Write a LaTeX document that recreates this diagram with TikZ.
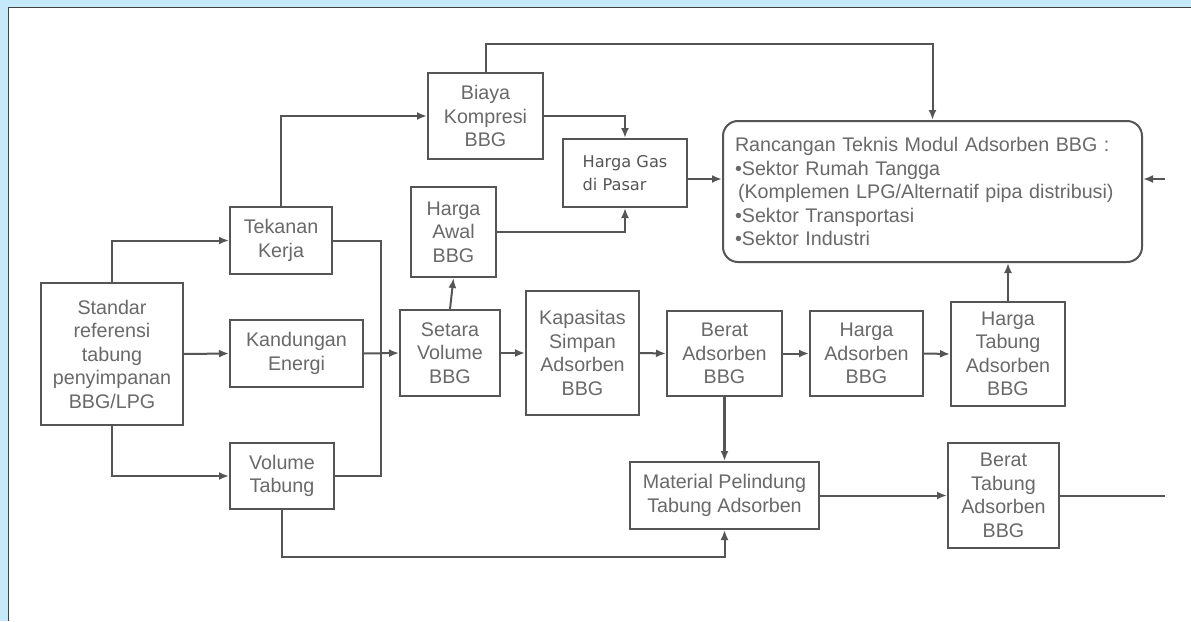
\documentclass[tikz,border=0pt]{standalone}
\usepackage{fontspec}
\setmainfont{Liberation Sans}
\newfontfamily\gasfont{DejaVu Sans}
\usetikzlibrary{arrows.meta}

\definecolor{framebg}{RGB}{197,233,249}
\definecolor{linegray}{RGB}{85,85,85}
\definecolor{textgray}{RGB}{105,105,105}

\tikzset{
  box/.style={draw=linegray, line width=2pt, text=textgray, align=center,
    inner sep=2pt, font=\fontsize{19.7}{23.5}\selectfont},
  link/.style={draw=linegray, line width=2pt},
  arr/.style={link, -{Latex[length=10pt,width=8pt]}},
}

\begin{document}
\begin{tikzpicture}[x=1pt,y=-1pt]
  \useasboundingbox (0,0) rectangle (1191,621);
  \fill[framebg] (0,0) rectangle (1191,621);
  \fill[white] (8,7) rectangle (1191,621);
  \draw[black!75, line width=1pt] (8,621) -- (8,7) -- (1191,7);

  % left column
  \node[box, minimum width=142pt, minimum height=142pt] (std) at (112,354)
    {Standar\\referensi\\tabung\\penyimpanan\\BBG/LPG};
  \node[box, minimum width=102pt, minimum height=67pt] (tek) at (281,240.5) {Tekanan\\Kerja};
  \node[box, minimum width=133pt, minimum height=67pt] (kan) at (296.5,353.5) {Kandungan\\Energi};
  \node[box, minimum width=104pt, minimum height=66pt] (vol) at (282,476) {Volume\\Tabung};

  % middle
  \node[box, minimum width=100pt, minimum height=86pt] (set) at (450,353) {Setara\\Volume\\BBG};
  \node[box, minimum width=85pt, minimum height=90pt] (awal) at (453.5,232) {Harga\\Awal\\BBG};
  \node[box, minimum width=115pt, minimum height=86pt] (biaya) at (485.5,116) {Biaya\\Kompresi\\BBG};
  \node[box, align=left, minimum width=124pt, minimum height=68pt, text=linegray,
    font=\gasfont\fontsize{16.2}{23}\selectfont] (gas) at (625,173) {Harga Gas\\di Pasar};
  \node[box, minimum width=113pt, minimum height=124pt] (kap) at (582.5,353) {Kapasitas\\Simpan\\Adsorben\\BBG};
  \node[box, minimum width=115pt, minimum height=85pt] (berat) at (724.5,353.5) {Berat\\Adsorben\\BBG};
  \node[box, minimum width=189pt, minimum height=67pt] (mat) at (724.5,495.5) {Material Pelindung\\Tabung Adsorben};

  % right
  \node[box, align=left, rounded corners=15pt, minimum height=141pt,
    text width=395pt, inner xsep=12pt] (ranc) at (932.5,191.5)
    {Rancangan Teknis Modul Adsorben BBG :\\
     •Sektor Rumah Tangga\\
     \hspace*{3pt}(Komplemen LPG/Alternatif pipa distribusi)\\
     •Sektor Transportasi\\
     •Sektor Industri};
  \node[box, minimum width=113pt, minimum height=85pt] (hads) at (866.5,353.5) {Harga\\Adsorben\\BBG};
  \node[box, minimum width=114pt, minimum height=104pt] (htab) at (1008,354) {Harga\\Tabung\\Adsorben\\BBG};
  \node[box, minimum width=111pt, minimum height=105pt] (btab) at (1003.5,495.5) {Berat\\Tabung\\Adsorben\\BBG};

  % helper points
  \coordinate (jn) at (381,353);
  \coordinate (ttop) at (485.5,44);
  \coordinate (rin) at (1165,179);
  \coordinate (rout) at (1165,495.5);
  \coordinate (bot) at (282,557);

  % connectors
  \draw[arr] (std.north) |- (tek.west);
  \draw[arr] (std.east) -- (kan.west);
  \draw[arr] (std.south) |- (vol.west);
  \draw[arr] (tek.north) |- (biaya.west);
  \draw[link] (tek.east) -| (jn) |- (vol.east);
  \draw[arr] (kan.east) -- (set.west);
  \draw[arr] (set.north) -- (awal.south);
  \draw[arr] (biaya.east) -| (gas.north);
  \draw[arr] (awal.east) -| (gas.south);
  \draw[arr] (biaya.north) -- (ttop) -| (ranc.north);
  \draw[arr] ([yshift=-6pt]gas.east) -- ([yshift=-6pt]gas.east -| ranc.west);
  \draw[arr] (rin) -- (rin -| ranc.east);
  \draw[arr] (htab.north) -- (htab.north |- ranc.south);
  \draw[arr] (set.east) -- (kap.west);
  \draw[arr] (kap.east) -- (berat.west);
  \draw[arr] (berat.east) -- (hads.west);
  \draw[arr] (hads.east) -- (htab.west);
  \draw[arr, line width=3pt] (berat.south) -- (mat.north);
  \draw[arr] (mat.east) -- (btab.west);
  \draw[link] (btab.east) -- (rout);
  \draw[arr] (vol.south) -- (bot) -| (mat.south);
\end{tikzpicture}
\end{document}
